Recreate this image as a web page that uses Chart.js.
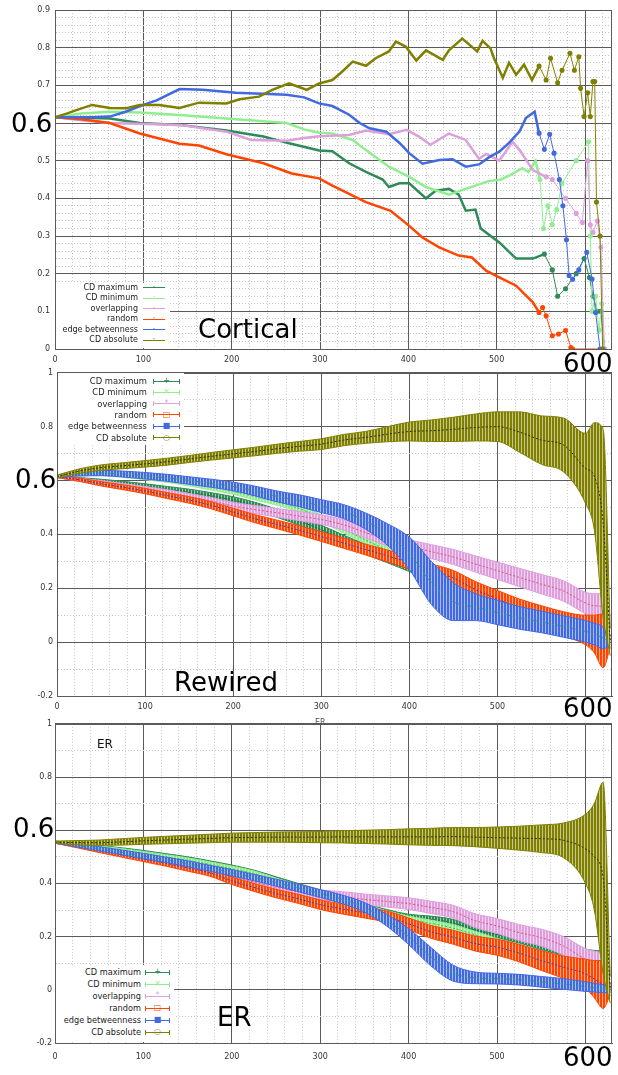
<!DOCTYPE html>
<html>
<head>
<meta charset="utf-8">
<script src="https://cdn.jsdelivr.net/npm/chart.js@4.4.1/dist/chart.umd.min.js"></script>
<style>
  html, body { margin: 0; padding: 0; background: #fff; }
  #fig { position: relative; width: 618px; height: 1075px; overflow: hidden; font-family: "DejaVu Sans", sans-serif; }
  #fig canvas { position: absolute; left: 0; }
  .big { position: absolute; font-size: 26px; line-height: 26px; color: #000; white-space: nowrap; }
  .small { position: absolute; white-space: nowrap; }
  .key { position: absolute; background: #fff; }
  .kt { position: absolute; line-height: 12px; white-space: nowrap; color: #222; }
  .ks { position: absolute; height: 5px; box-sizing: border-box; }
  .ks b { position: absolute; left: 50%; top: 50%; transform: translate(-50%, -50%); font-weight: normal; font-size: 8px; line-height: 8px; }
</style>
</head>
<body>
<div id="fig">
  <canvas id="cortical" width="618" height="372" style="top:0px"></canvas>
  <canvas id="rewired" width="618" height="356" style="top:364px"></canvas>
  <canvas id="er" width="618" height="359" style="top:716px"></canvas>
</div>
<script>
// series names / colours (same in all three panels)
const names = ['CD maximum', 'CD minimum', 'overlapping', 'random', 'edge betweenness', 'CD absolute'];
const colors = ['#2e8b57', '#90ee90', '#dda0dd', '#ff4500', '#4169e1', '#808000'];
const meanColors = ['#1f6b40', '#4fb04f', '#e0507a', '#3a3ac0', '#2fa060', '#303000'];
const markers = ['+', '×', '*', '□', '■', '○'];

// --- Cortical: single runs, [x, y] points
const cortMax = [[0,0.615],[30,0.614],[62,0.612],[96,0.6],[141,0.595],[194,0.58],[236,0.564],[265,0.546],[285,0.535],[299,0.527],[314,0.525],[333,0.493],[352,0.47],[371,0.45],[378,0.43],[390,0.44],[401,0.44],[420,0.4],[431,0.42],[446,0.425],[457,0.41],[465,0.367],[476,0.37],[482,0.32],[503,0.283],[522,0.24],[541,0.24],[554,0.252],[563,0.21],[569,0.14],[578,0.16],[590,0.2],[599,0.24],[605,0.19],[609,0.14],[614,0.1],[618,0.1],[622,0]];
const cortMin = [[0,0.615],[30,0.625],[62,0.63],[96,0.628],[141,0.621],[194,0.612],[262,0.6],[282,0.583],[299,0.574],[314,0.572],[337,0.555],[352,0.528],[378,0.484],[401,0.457],[420,0.43],[446,0.41],[465,0.425],[490,0.445],[505,0.45],[514,0.46],[529,0.48],[536,0.47],[544,0.5],[549,0.45],[553,0.32],[558,0.38],[563,0.33],[568,0.37],[574,0.44],[590,0.5],[604,0.55],[606,0.3],[608,0.1],[612,0.14],[616,0.05],[619,0.12],[622,0]];
const cortOver = [[0,0.615],[30,0.607],[62,0.6],[141,0.595],[194,0.577],[222,0.555],[262,0.553],[282,0.56],[299,0.565],[333,0.568],[352,0.58],[378,0.57],[398,0.582],[412,0.564],[425,0.542],[446,0.572],[465,0.555],[480,0.505],[488,0.518],[503,0.5],[518,0.55],[526,0.528],[541,0.475],[556,0.457],[563,0.45],[578,0.4],[590,0.36],[597,0.336],[603,0.5],[606,0.33],[609,0.31],[614,0.34],[618,0.27],[622,0]];
const cortRand = [[0,0.615],[30,0.61],[62,0.6],[96,0.572],[141,0.545],[163,0.54],[194,0.517],[236,0.493],[268,0.466],[299,0.453],[314,0.434],[352,0.39],[380,0.367],[401,0.327],[416,0.296],[435,0.27],[457,0.248],[472,0.243],[488,0.208],[503,0.19],[522,0.168],[541,0.124],[548,0.097],[552,0.11],[556,0.088],[563,0.035],[570,0.04],[578,0.049],[584,0.004],[586,0],[620,0]];
const cortBetw = [[0,0.615],[40,0.615],[62,0.617],[80,0.63],[100,0.648],[115,0.66],[141,0.69],[167,0.688],[205,0.68],[262,0.675],[282,0.668],[299,0.652],[314,0.645],[333,0.622],[345,0.6],[356,0.586],[375,0.577],[390,0.547],[401,0.52],[416,0.492],[435,0.502],[450,0.504],[465,0.484],[480,0.49],[492,0.51],[503,0.524],[514,0.547],[526,0.578],[533,0.613],[543,0.63],[548,0.573],[554,0.53],[560,0.57],[565,0.52],[571,0.45],[575,0.38],[579,0.29],[582,0.195],[586,0.185],[593,0.21],[602,0.257],[608,0.186],[612,0.097],[617,0]];
const cortAbs = [[0,0.615],[13,0.625],[25,0.635],[42,0.648],[62,0.64],[81,0.639],[96,0.648],[118,0.648],[141,0.64],[163,0.654],[194,0.652],[209,0.663],[231,0.67],[246,0.688],[265,0.705],[277,0.695],[285,0.688],[299,0.705],[314,0.714],[325,0.736],[337,0.763],[352,0.752],[363,0.772],[378,0.79],[386,0.816],[397,0.803],[409,0.766],[420,0.793],[439,0.768],[446,0.793],[461,0.824],[473,0.8],[478,0.79],[484,0.818],[493,0.798],[497,0.772],[507,0.72],[514,0.76],[522,0.728],[531,0.755],[540,0.714],[548,0.751],[556,0.714],[561,0.772],[569,0.707],[574,0.74],[583,0.785],[588,0.74],[593,0.776],[595,0.692],[599,0.617],[603,0.68],[606,0.617],[609,0.71],[611,0.71],[613,0.39],[617,0.3],[620,0]];

// --- Rewired and ER: mean and error half-width at these x positions
const errX = [0,25,50,75,100,125,150,175,200,225,250,275,300,325,350,375,400,425,450,475,500,525,550,575,600,610,620,628];

const rewMaxMean  = [0.615,0.605,0.597,0.588,0.578,0.567,0.556,0.543,0.527,0.505,0.478,0.45,0.417,0.38,0.345,0.315,0.282,0.25,0.215,0.185,0.155,0.125,0.1,0.075,0.05,0.035,0.02,0];
const rewMinMean  = [0.615,0.623,0.625,0.62,0.612,0.603,0.59,0.576,0.56,0.54,0.52,0.496,0.46,0.42,0.38,0.34,0.3,0.26,0.22,0.18,0.15,0.125,0.1,0.075,0.05,0.035,0.02,0];
const rewOverMean = [0.615,0.603,0.592,0.58,0.568,0.555,0.54,0.524,0.505,0.492,0.48,0.468,0.455,0.436,0.407,0.38,0.356,0.336,0.316,0.29,0.265,0.24,0.215,0.19,0.145,0.135,0.13,0];
const rewRandMean = [0.615,0.603,0.588,0.575,0.561,0.544,0.528,0.508,0.483,0.458,0.437,0.415,0.392,0.368,0.344,0.32,0.295,0.265,0.238,0.195,0.16,0.125,0.095,0.068,0.045,0.03,0.005,0];
const rewBetwMean = [0.615,0.625,0.628,0.624,0.618,0.61,0.6,0.59,0.578,0.561,0.541,0.525,0.505,0.485,0.45,0.4,0.33,0.22,0.15,0.13,0.11,0.09,0.075,0.058,0.04,0.03,0.015,0];
const rewAbsMean  = [0.615,0.635,0.648,0.655,0.662,0.67,0.68,0.69,0.699,0.708,0.718,0.727,0.735,0.75,0.76,0.772,0.782,0.785,0.79,0.797,0.8,0.78,0.75,0.732,0.645,0.615,0.44,0];
const rewMaxErr  = [0.004,0.006,0.008,0.009,0.01,0.011,0.012,0.012,0.013,0.014,0.015,0.016,0.017,0.018,0.019,0.02,0.02,0.021,0.022,0.022,0.023,0.024,0.025,0.026,0.028,0.03,0.032,0.01];
const rewMinErr  = [0.004,0.006,0.007,0.008,0.009,0.01,0.01,0.011,0.011,0.012,0.012,0.013,0.013,0.014,0.014,0.015,0.016,0.016,0.017,0.018,0.018,0.019,0.02,0.02,0.022,0.024,0.026,0.01];
const rewOverErr = [0.004,0.006,0.008,0.009,0.01,0.011,0.012,0.013,0.014,0.015,0.016,0.017,0.018,0.019,0.02,0.022,0.024,0.026,0.028,0.03,0.032,0.034,0.036,0.038,0.04,0.045,0.05,0.02];
const rewRandErr = [0.004,0.006,0.008,0.009,0.01,0.011,0.012,0.013,0.014,0.015,0.016,0.017,0.018,0.019,0.02,0.022,0.024,0.026,0.028,0.03,0.032,0.035,0.04,0.045,0.055,0.07,0.1,0.02];
const rewBetwErr = [0.005,0.008,0.01,0.011,0.012,0.013,0.014,0.015,0.016,0.018,0.02,0.022,0.024,0.026,0.03,0.04,0.06,0.08,0.07,0.05,0.045,0.042,0.04,0.04,0.04,0.04,0.04,0.01];
const rewAbsErr  = [0.005,0.008,0.01,0.011,0.012,0.013,0.013,0.014,0.015,0.016,0.017,0.018,0.02,0.021,0.022,0.028,0.035,0.04,0.045,0.05,0.055,0.075,0.09,0.1,0.13,0.2,0.35,0.05];

const erMaxMean  = [0.555,0.546,0.537,0.527,0.516,0.504,0.491,0.476,0.459,0.44,0.415,0.39,0.364,0.338,0.313,0.29,0.272,0.265,0.252,0.225,0.208,0.19,0.165,0.146,0.137,0.13,0.125,0];
const erMinMean  = [0.555,0.545,0.535,0.524,0.512,0.5,0.487,0.472,0.455,0.437,0.41,0.385,0.36,0.335,0.31,0.285,0.265,0.25,0.232,0.207,0.18,0.155,0.12,0.097,0.075,0.066,0.057,0];
const erOverMean = [0.555,0.542,0.528,0.514,0.499,0.484,0.468,0.451,0.425,0.405,0.386,0.368,0.357,0.35,0.34,0.332,0.324,0.31,0.294,0.26,0.24,0.215,0.196,0.165,0.115,0.1,0.082,0];
const erRandMean = [0.555,0.54,0.524,0.508,0.492,0.476,0.458,0.44,0.41,0.385,0.362,0.342,0.32,0.304,0.29,0.275,0.248,0.218,0.198,0.174,0.16,0.138,0.11,0.085,0.06,0.04,0.02,0];
const erBetwMean = [0.555,0.543,0.53,0.517,0.503,0.489,0.474,0.457,0.44,0.422,0.403,0.383,0.362,0.34,0.31,0.262,0.2,0.125,0.063,0.045,0.042,0.038,0.03,0.022,0.012,0.008,0.004,0];
const erAbsMean  = [0.555,0.553,0.553,0.556,0.56,0.563,0.566,0.569,0.572,0.573,0.574,0.574,0.574,0.575,0.575,0.575,0.575,0.575,0.576,0.574,0.572,0.57,0.568,0.562,0.53,0.5,0.42,0];
const erMaxErr  = [0.004,0.005,0.006,0.007,0.008,0.008,0.009,0.009,0.01,0.01,0.01,0.01,0.011,0.011,0.011,0.012,0.012,0.012,0.013,0.013,0.013,0.014,0.014,0.015,0.016,0.018,0.02,0.01];
const erMinErr  = [0.004,0.005,0.006,0.007,0.008,0.008,0.009,0.009,0.01,0.01,0.01,0.01,0.011,0.011,0.011,0.012,0.012,0.012,0.013,0.013,0.013,0.014,0.014,0.015,0.016,0.018,0.02,0.01];
const erOverErr = [0.004,0.006,0.008,0.009,0.01,0.011,0.012,0.013,0.014,0.015,0.016,0.017,0.018,0.019,0.02,0.021,0.022,0.023,0.024,0.026,0.028,0.03,0.032,0.035,0.04,0.045,0.05,0.02];
const erRandErr = [0.004,0.006,0.008,0.009,0.01,0.011,0.012,0.013,0.014,0.015,0.016,0.017,0.018,0.019,0.02,0.021,0.022,0.024,0.026,0.028,0.03,0.033,0.037,0.042,0.055,0.07,0.09,0.02];
const erBetwErr = [0.004,0.006,0.008,0.009,0.01,0.01,0.011,0.011,0.012,0.012,0.013,0.014,0.015,0.016,0.018,0.022,0.03,0.035,0.03,0.022,0.02,0.02,0.02,0.02,0.018,0.016,0.015,0.01];
const erAbsErr  = [0.004,0.008,0.01,0.012,0.013,0.014,0.015,0.016,0.017,0.018,0.019,0.02,0.021,0.023,0.025,0.027,0.03,0.032,0.034,0.036,0.04,0.045,0.052,0.065,0.13,0.2,0.36,0.05];

const fig = document.getElementById('fig');
const tickFont = { family: '"DejaVu Sans", sans-serif', size: 8 };
const isStep = (v, step) => Math.abs(v / step - Math.round(v / step)) < 1e-6;

// dense error bars look like vertical hatching
function stripes(color) {
  const c = document.createElement('canvas');
  c.width = 3; c.height = 4;
  const g = c.getContext('2d');
  g.fillStyle = '#fff'; g.fillRect(0, 0, 3, 4);
  g.fillStyle = color;
  g.globalAlpha = 0.45; g.fillRect(0, 0, 3, 4);
  g.globalAlpha = 1; g.fillRect(0, 0, 2, 4);
  return g.createPattern(c, 'repeat');
}

// gnuplot-like closed box round the plot
const frame = {
  id: 'frame',
  afterDatasetsDraw(chart) {
    const { ctx, chartArea: a } = chart;
    ctx.save();
    ctx.strokeStyle = '#5a5a5a';
    ctx.lineWidth = 1;
    ctx.strokeRect(Math.round(a.left) + 0.5, Math.round(a.top) + 0.5, Math.round(a.right - a.left) - 1, Math.round(a.bottom - a.top));
    ctx.restore();
  }
};

function scales(g) {
  const gridColor = step => c => (c.tick && isStep(c.tick.value, step)) ? '#5a5a5a' : '#c6c6c6';
  const gridDash = step => c => (c.tick && !isStep(c.tick.value, step)) ? [1, 2] : [];
  return {
    x: {
      type: 'linear', min: 0, max: 630,
      afterFit: s => { s.height = g.xH; },
      ticks: {
        stepSize: 20, includeBounds: false, maxTicksLimit: 1000, autoSkip: false, maxRotation: 0,
        padding: g.xPad, color: '#333', font: tickFont,
        callback: v => (isStep(v, 100) && v !== 600) ? String(v) : ''
      },
      grid: { drawTicks: false, lineWidth: 1, color: gridColor(100) },
      border: { color: '#5a5a5a', dash: gridDash(100) }
    },
    y: {
      type: 'linear', min: g.yMin, max: g.yMax,
      afterFit: s => { s.width = g.yW; },
      ticks: {
        stepSize: g.yMinor, includeBounds: false, maxTicksLimit: 1000, autoSkip: false,
        padding: g.yPad, color: '#333', font: tickFont,
        callback: v => (isStep(v, g.yMajor) && Math.abs(v - 0.6) > 1e-6) ? String(+v.toFixed(2)) : ''
      },
      grid: { drawTicks: false, lineWidth: 1, color: gridColor(g.yMajor) },
      border: { color: '#5a5a5a', dash: gridDash(g.yMajor) }
    }
  };
}

function makeChart(id, g, datasets) {
  return new Chart(document.getElementById(id), {
    type: 'line',
    data: { datasets },
    options: {
      responsive: false,
      animation: false,
      events: [],
      layout: { padding: { top: g.padTop, right: 6, left: 0, bottom: 0 } },
      scales: scales(g),
      plugins: { legend: { display: false }, tooltip: { enabled: false } }
    },
    plugins: [frame]
  });
}

function bandSets(means, errs) {
  const sets = [];
  means.forEach((m, i) => {
    const order = 6 - i;
    const pts = k => errX.map((x, j) => ({ x, y: m[j] + k * errs[i][j] }));
    const common = { pointRadius: 0, cubicInterpolationMode: 'monotone', order };
    sets.push({ ...common, label: names[i], data: pts(1), borderColor: colors[i], borderWidth: 1, fill: false });
    sets.push({ ...common, label: names[i], data: pts(-1), borderColor: colors[i], borderWidth: 1, fill: '-1', backgroundColor: stripes(colors[i]) });
    sets.push({ ...common, label: names[i], data: pts(0), borderColor: meanColors[i], borderWidth: 1, borderDash: [2, 2], fill: false, order: order - 0.5 });
  });
  return sets;
}

// Cortical
const cortSeries = [cortMax, cortMin, cortOver, cortRand, cortBetw, cortAbs];
makeChart('cortical',
  { padTop: 10, yW: 55, xH: 23, xPad: 6, yPad: 5, yMin: 0, yMax: 0.9, yMinor: 0.02, yMajor: 0.1 },
  cortSeries.map((pts, i) => ({
    label: names[i], data: pts,
    borderColor: colors[i], backgroundColor: colors[i],
    borderWidth: 2.5, fill: false, order: 6 - i,
    pointRadius: c => (c.parsed && c.parsed.x > 545) ? 1.3 : 0,
    segment: { borderWidth: c => c.p0.parsed.x >= 545 ? 1 : 2.5 }
  })));

// Rewired
makeChart('rewired',
  { padTop: 8, yW: 57, xH: 24, xPad: 6, yPad: 4, yMin: -0.2, yMax: 1, yMinor: 0.1, yMajor: 0.2 },
  bandSets([rewMaxMean, rewMinMean, rewOverMean, rewRandMean, rewBetwMean, rewAbsMean],
           [rewMaxErr, rewMinErr, rewOverErr, rewRandErr, rewBetwErr, rewAbsErr]));

// ER
makeChart('er',
  { padTop: 7, yW: 55, xH: 32, xPad: 9, yPad: 3, yMin: -0.2, yMax: 1, yMinor: 0.1, yMajor: 0.2 },
  bandSets([erMaxMean, erMinMean, erOverMean, erRandMean, erBetwMean, erAbsMean],
           [erMaxErr, erMinErr, erOverErr, erRandErr, erBetwErr, erAbsErr]));

// keys, drawn inside the plots like gnuplot does
function key(k) {
  const box = document.createElement('div');
  box.className = 'key';
  Object.assign(box.style, { left: k.x + 'px', top: k.y + 'px', width: k.w + 'px', height: k.h + 'px' });
  names.forEach((n, i) => {
    const cy = k.row0 + i * k.step - k.y;
    const t = document.createElement('div');
    t.className = 'kt';
    t.textContent = n;
    Object.assign(t.style, { right: (k.x + k.w - k.textRight) + 'px', top: (cy - 6) + 'px', fontSize: k.font + 'px' });
    box.appendChild(t);
    const s = document.createElement('div');
    s.className = 'ks';
    const cap = k.caps ? '1px solid ' + colors[i] : '0';
    Object.assign(s.style, {
      left: (k.sx - k.x) + 'px', top: (cy - 2.5) + 'px', width: k.sw + 'px',
      borderLeft: cap, borderRight: cap,
      background: 'linear-gradient(' + colors[i] + ',' + colors[i] + ') center / 100% 1px no-repeat'
    });
    const m = document.createElement('b');
    m.textContent = k.caps ? markers[i] : '·';
    m.style.color = colors[i];
    s.appendChild(m);
    box.appendChild(s);
  });
  fig.appendChild(box);
}
key({ x: 56, y: 283, w: 114, h: 65, row0: 287.7, step: 10.46, textRight: 138, sx: 143, sw: 22, font: 8, caps: false });
key({ x: 58, y: 373, w: 126, h: 72, row0: 381, step: 11.33, textRight: 147, sx: 153, sw: 27, font: 8.4, caps: true });
key({ x: 56, y: 965, w: 118, h: 77, row0: 972, step: 12, textRight: 141, sx: 145, sw: 25, font: 8.2, caps: true });

// overlaid annotations
const notes = [
  ['big', '0.6', 11, 110], ['big', '600', 563, 350], ['big', 'Cortical', 198, 316],
  ['big', '0.6', 15, 466], ['big', '600', 563, 695], ['big', 'Rewired', 174, 669],
  ['big', '0.6', 13, 815], ['big', '600', 563, 1044], ['big', 'ER', 217, 1004]
];
notes.forEach(([cls, text, x, y]) => {
  const d = document.createElement('div');
  d.className = cls;
  d.textContent = text;
  d.style.left = x + 'px';
  d.style.top = y + 'px';
  fig.appendChild(d);
});
const erTitle = document.createElement('div');
erTitle.className = 'small';
erTitle.textContent = 'ER';
Object.assign(erTitle.style, { left: '97px', top: '738px', fontSize: '12px', lineHeight: '12px', color: '#111' });
fig.appendChild(erTitle);
const erAxis = document.createElement('div');
erAxis.className = 'small';
erAxis.textContent = 'ER';
Object.assign(erAxis.style, { left: '315px', top: '719px', fontSize: '8px', lineHeight: '8px', color: '#555' });
fig.appendChild(erAxis);
</script>
</body>
</html>
